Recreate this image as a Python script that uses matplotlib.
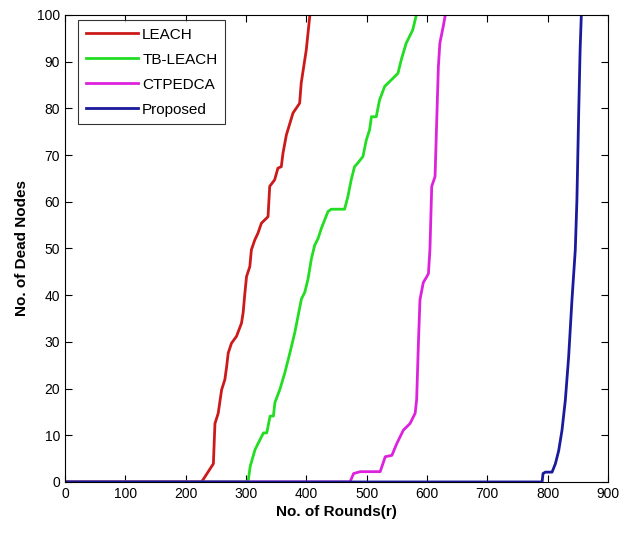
import matplotlib
matplotlib.use("Agg")
import matplotlib.pyplot as plt

plt.rcParams['font.family'] = ['Liberation Sans Narrow', 'DejaVu Sans Condensed', 'Liberation Sans', 'DejaVu Sans']

# rounds vs dead nodes
leach_x = [0, 226, 229, 246, 248.6, 254, 259.6, 265, 268, 270.6, 276, 284.4, 292.6, 295.4, 298.2,
           301, 306.4, 309, 314.6, 320, 325.6, 336.6, 339.4, 347.6, 353, 358.6, 361.4,
           367, 378, 389, 391.6, 400, 406]
leach_y = [0, 0, 0.5, 3.9, 12.5, 14.7, 19.7, 21.9, 24.7, 27.6, 29.7, 31.2, 34.0, 36.3, 40.4,
           44.0, 46.1, 49.7, 51.8, 53.3, 55.4, 56.8, 63.3, 64.7, 67.2, 67.5, 70.4,
           74.3, 79.0, 81.1, 85.4, 92.5, 100]

tbleach_x = [0, 301.5, 304, 307, 315, 323.5, 329, 334.5, 340, 345.5, 348, 356.5, 364.5,
             373, 381, 386.5, 392, 397.5, 403, 408.5, 414, 419.5, 425, 430.5,
             436, 441.5, 463.5, 469, 474.5, 480, 485.5, 494, 499.5, 505, 508,
             516, 521.5, 530, 541, 552, 557.5, 565.5, 576.5, 582.5]
tbleach_y = [0, 0, 0.5, 3.3, 6.9, 9.1, 10.5, 10.5, 14.1, 14.1, 17.0, 19.9, 23.4,
             27.7, 32.0, 35.6, 39.2, 40.6, 43.5, 47.8, 50.7, 52.1, 54.3, 56.1,
             57.9, 58.4, 58.4, 61.1, 64.7, 67.5, 68.3, 69.7, 73.2, 75.4, 78.2,
             78.2, 81.8, 84.7, 86.1, 87.5, 90.4, 93.9, 96.8, 100]

ctpedca_x = [0, 472.5, 478.5, 489.5, 522.5, 531, 542, 550, 561, 572, 580.5, 583,
             586, 588.5, 594, 599.5, 602.5, 605, 608, 613.5, 616, 619,
             621.5, 627, 630.5]
ctpedca_y = [0, 0, 1.8, 2.2, 2.2, 5.4, 5.7, 8.2, 11.1, 12.5, 14.7, 17.6,
             30.0, 39.0, 42.7, 43.9, 44.6, 49.7, 63.3, 65.4, 76.1, 88.9,
             94.0, 97.5, 100]

proposed_x = [0, 791, 792.5, 796.5, 807.5, 813, 818.5, 824, 829.5, 835, 840.5, 846,
              848.7, 851.5, 854, 856]
proposed_y = [0, 0, 1.8, 2.1, 2.1, 3.9, 6.7, 11.1, 17.5, 26.8, 39, 49.7,
              60.4, 78.2, 92.5, 100]

fig = plt.figure(figsize=(6.19, 5.34), dpi=100)
ax = fig.add_axes([0.105, 0.0975, 0.877, 0.8745])

ax.plot(leach_x, leach_y, color='#cc1a1a', lw=2, label='LEACH')
ax.plot(tbleach_x, tbleach_y, color='#22dd22', lw=2, label='TB-LEACH')
ax.plot(ctpedca_x, ctpedca_y, color='#dd22dd', lw=2, label='CTPEDCA')
ax.plot(proposed_x, proposed_y, color='#1a1a9c', lw=2, label='Proposed')

ax.set_xlim(0, 900)
ax.set_ylim(0, 100)
ax.set_xticks(range(0, 901, 100))
ax.set_yticks(range(0, 101, 10))
ax.tick_params(direction='in', top=True, right=True, labelsize=10, length=5)
for s in ax.spines.values():
    s.set_linewidth(0.8)

ax.set_xlabel('No. of Rounds(r)', fontsize=11, fontweight='bold', labelpad=3)
ax.set_ylabel('No. of Dead Nodes', fontsize=11, fontweight='bold', labelpad=6)

leg = ax.legend(loc='upper left', bbox_to_anchor=(0.024, 0.989), borderaxespad=0,
                fontsize=11, fancybox=False, edgecolor='black',
                handlelength=3.4, labelspacing=0.72, handletextpad=0.3, borderpad=0.5)
leg.get_frame().set_linewidth(0.8)

fig.savefig('out.png', dpi=100)
